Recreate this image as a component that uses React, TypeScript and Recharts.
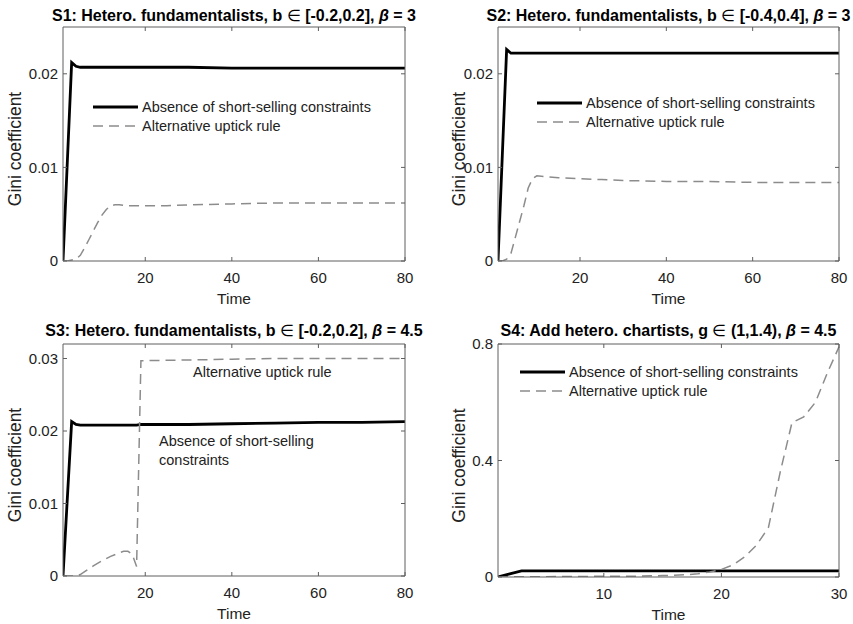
import { LineChart, Line, XAxis, YAxis, Legend } from 'recharts'

const FONT = '"Liberation Sans", Arial, Helvetica, sans-serif'
const AXIS = '#5e5e5e'
const INK = '#222'

const seriesNames = ['Absence of short-selling constraints', 'Alternative uptick rule']

// S1: hetero. fundamentalists, b in [-0.2,0.2], beta = 3
const s1Time = [1, 2, 3, 4, 5, 6, 7, 8, 9, 10, 11, 12, 13, 14, 16, 20, 25, 30, 40, 50, 60, 70, 80]
const s1Absence = [0, 0.0106, 0.0212, 0.0208, 0.0207, 0.0207, 0.0207, 0.0207, 0.0207, 0.0207, 0.0207, 0.0207, 0.0207, 0.0207, 0.0207, 0.0207, 0.0207, 0.0207, 0.0206, 0.0206, 0.0206, 0.0206, 0.0206]
const s1Uptick = [0, 0, 0.0001, 0.0002, 0.0006, 0.0014, 0.0023, 0.0032, 0.0041, 0.0049, 0.0055, 0.0059, 0.006, 0.006, 0.0059, 0.0059, 0.0059, 0.006, 0.0061, 0.0062, 0.0062, 0.0062, 0.0062]

// S2: hetero. fundamentalists, b in [-0.4,0.4], beta = 3
const s2Time = [1, 2, 3, 4, 5, 6, 7, 8, 9, 10, 12, 15, 20, 25, 30, 40, 50, 60, 70, 80]
const s2Absence = [0, 0.0113, 0.0226, 0.0222, 0.0222, 0.0222, 0.0222, 0.0222, 0.0222, 0.0222, 0.0222, 0.0222, 0.0222, 0.0222, 0.0222, 0.0222, 0.0222, 0.0222, 0.0222, 0.0222]
const s2Uptick = [0, 0, 0.0002, 0.0008, 0.0025, 0.0042, 0.0059, 0.0078, 0.0088, 0.0091, 0.009, 0.0089, 0.0088, 0.0087, 0.0086, 0.0085, 0.0085, 0.0084, 0.0084, 0.0084]

// S3: hetero. fundamentalists, b in [-0.2,0.2], beta = 4.5
const s3Time = [1, 2, 3, 4, 5, 6, 8, 10, 12, 14, 15, 16, 17, 18, 19, 20, 30, 40, 50, 60, 70, 80]
const s3Absence = [0, 0.0107, 0.0213, 0.0209, 0.0208, 0.0208, 0.0208, 0.0208, 0.0208, 0.0208, 0.0208, 0.0208, 0.0208, 0.0208, 0.0209, 0.0209, 0.0209, 0.021, 0.0211, 0.0212, 0.0212, 0.0213]
const s3Uptick = [0, 0, 0, 0, 0.0002, 0.0006, 0.0014, 0.0021, 0.0027, 0.0032, 0.0034, 0.0034, 0.003, 0.0013, 0.0297, 0.0297, 0.0298, 0.0299, 0.03, 0.03, 0.03, 0.03]

// S4: add hetero. chartists, g in (1,1.4), beta = 4.5
const s4Time = [1, 2, 3, 4, 5, 6, 7, 8, 9, 10, 11, 12, 13, 14, 15, 16, 17, 18, 19, 20, 21, 22, 23, 24, 25, 26, 27, 28, 29, 30]
const s4Absence = [0, 0.011, 0.021, 0.021, 0.021, 0.021, 0.021, 0.021, 0.021, 0.021, 0.021, 0.021, 0.021, 0.021, 0.021, 0.021, 0.021, 0.021, 0.021, 0.021, 0.021, 0.021, 0.021, 0.021, 0.021, 0.021, 0.021, 0.021, 0.021, 0.021]
const s4Uptick = [0, 0.001, 0.001, 0.001, 0.001, 0.002, 0.002, 0.002, 0.002, 0.003, 0.003, 0.003, 0.003, 0.004, 0.005, 0.006, 0.008, 0.011, 0.017, 0.026, 0.042, 0.07, 0.11, 0.17, 0.36, 0.53, 0.55, 0.6, 0.7, 0.79]

const timeTicks80 = [20, 40, 60, 80]
const timeTicks30 = [10, 20, 30]
const giniTicksLow = [0, 0.01, 0.02]
const giniTicksS3 = [0, 0.01, 0.02, 0.03]
const giniTicksS4 = [0, 0.4, 0.8]

const toRows = (time: number[], a: number[], b: number[]) =>
  time.map((t, i) => ({ t, absence: a[i], uptick: b[i] }))

const lineStyle: Record<string, { stroke: string; width: number; dash?: string }> = {
  [seriesNames[0]]: { stroke: '#000', width: 3.2 },
  [seriesNames[1]]: { stroke: '#8c8c8c', width: 1.5, dash: '10 6' },
}

function LegendBox({ payload }: any) {
  const items = [...(payload || [])].sort((a: any, b: any) => seriesNames.indexOf(a.value) - seriesNames.indexOf(b.value))
  return (
    <svg width={300} height={40} style={{ display: 'block', overflow: 'visible' }}>
      {items.map((p: any, i: number) => {
        const st = lineStyle[p.value]
        const y = 9 + i * 19
        return (
          <g key={p.value}>
            <line x1={0} x2={45} y1={y} y2={y} stroke={st.stroke} strokeWidth={st.width} strokeDasharray={st.dash} />
            <text x={49} y={y + 5} fontSize={14.5} fontFamily={FONT} fill={INK}>{p.value}</text>
          </g>
        )
      })}
    </svg>
  )
}

interface PanelProps {
  left: number
  top: number
  width: number
  rows: { t: number; absence: number; uptick: number }[]
  xDomain: [number, number]
  xTicks: number[]
  yDomain: [number, number]
  yTicks: number[]
  title: [string, string]
  beta: string
  margin: { top: number; right: number; bottom: number; left: number }
  titleY: number
  labelX: number
  legendAt?: { x: number; y: number }
  notes?: { x: number; y: number; text: string }[]
}

function Panel(p: PanelProps) {
  const H = 312
  const plotLeft = p.margin.left + 40
  const plotRight = p.width - p.margin.right - 1
  const plotTop = p.margin.top + 1
  const plotBottom = H - p.margin.bottom - 30
  const cx = (plotLeft + plotRight) / 2
  const cy = (plotTop + plotBottom) / 2 + 5
  const tickText = { fill: INK, fontSize: 15, fontFamily: FONT }
  return (
    <div style={{ position: 'absolute', left: p.left, top: p.top }}>
      <LineChart width={p.width} height={H} data={p.rows} margin={p.margin}>
        <XAxis dataKey="t" type="number" domain={p.xDomain} ticks={p.xTicks} allowDataOverflow
          height={30} tickSize={-4} tickMargin={15} stroke={AXIS} tick={tickText} />
        <XAxis xAxisId="top" orientation="top" dataKey="t" type="number" domain={p.xDomain} ticks={p.xTicks}
          allowDataOverflow height={1} tickSize={-4} tickFormatter={() => ''} stroke={AXIS} />
        <YAxis type="number" domain={p.yDomain} ticks={p.yTicks} allowDataOverflow width={40}
          tickSize={-4} tickMargin={9} stroke={AXIS} tick={tickText} />
        <YAxis yAxisId="right" orientation="right" type="number" domain={p.yDomain} ticks={p.yTicks}
          allowDataOverflow width={1} tickSize={-4} tickFormatter={() => ''} stroke={AXIS} />
        <Line dataKey="absence" name={seriesNames[0]} type="linear" stroke="#000" strokeWidth={2.8}
          dot={false} activeDot={false} isAnimationActive={false} />
        <Line dataKey="uptick" name={seriesNames[1]} type="linear" stroke="#8c8c8c" strokeWidth={1.5}
          strokeDasharray="10 6" dot={false} activeDot={false} isAnimationActive={false} />
        {p.legendAt && (
          <Legend layout="vertical" verticalAlign="middle" align="center" content={LegendBox}
            wrapperStyle={{ left: p.legendAt.x, top: p.legendAt.y, width: 300, height: 40 }} />
        )}
        <text x={cx} y={p.titleY} textAnchor="middle" fontFamily={FONT} fontSize={16} fontWeight="bold" fill="#000">
          <tspan>{p.title[0]}</tspan>
          <tspan fontWeight="normal">{' ∈ '}</tspan>
          <tspan>{p.title[1]}</tspan>
          <tspan fontStyle="italic">β</tspan>
          <tspan>{' = ' + p.beta}</tspan>
        </text>
        <text x={cx} y={plotBottom + 43} textAnchor="middle" fontFamily={FONT} fontSize={15.5} fill={INK}>Time</text>
        <text x={p.labelX} y={cy} textAnchor="middle" fontFamily={FONT} fontSize={17.5} fill={INK}
          transform={`rotate(-90 ${p.labelX} ${cy})`}>Gini coefficient</text>
        {(p.notes || []).map((n) => (
          <text key={n.text} x={n.x} y={n.y} fontFamily={FONT} fontSize={14.5} fill={INK}>{n.text}</text>
        ))}
      </LineChart>
    </div>
  )
}

export default function App() {
  return (
    <div style={{ position: 'absolute', left: 0, top: 0, width: 853, height: 624, background: '#fff' }}>
      <Panel left={0} top={0} width={426} rows={toRows(s1Time, s1Absence, s1Uptick)}
        xDomain={[1, 80]} xTicks={timeTicks80} yDomain={[0, 0.025]} yTicks={giniTicksLow}
        title={['S1: Hetero. fundamentalists, b', '[-0.2,0.2], ']} beta="3"
        margin={{ top: 26, right: 20, bottom: 21, left: 23 }} titleY={21} labelX={21}
        legendAt={{ x: 93, y: 98 }} />
      <Panel left={426} top={0} width={427} rows={toRows(s2Time, s2Absence, s2Uptick)}
        xDomain={[1, 80]} xTicks={timeTicks80} yDomain={[0, 0.025]} yTicks={giniTicksLow}
        title={['S2: Hetero. fundamentalists, b', '[-0.4,0.4], ']} beta="3"
        margin={{ top: 26, right: 13, bottom: 21, left: 32 }} titleY={21} labelX={39}
        legendAt={{ x: 111, y: 94 }} />
      <Panel left={0} top={312} width={426} rows={toRows(s3Time, s3Absence, s3Uptick)}
        xDomain={[1, 80]} xTicks={timeTicks80} yDomain={[0, 0.032]} yTicks={giniTicksS3}
        title={['S3: Hetero. fundamentalists, b', '[-0.2,0.2], ']} beta="4.5"
        margin={{ top: 31, right: 20, bottom: 18, left: 23 }} titleY={24} labelX={21}
        notes={[
          { x: 193, y: 65, text: seriesNames[1] },
          { x: 159, y: 134, text: 'Absence of short-selling' },
          { x: 159, y: 153, text: 'constraints' },
        ]} />
      <Panel left={426} top={312} width={427} rows={toRows(s4Time, s4Absence, s4Uptick)}
        xDomain={[1, 30]} xTicks={timeTicks30} yDomain={[0, 0.8]} yTicks={giniTicksS4}
        title={['S4: Add hetero. chartists, g', '(1,1.4), ']} beta="4.5"
        margin={{ top: 31, right: 13, bottom: 17, left: 32 }} titleY={24} labelX={39}
        legendAt={{ x: 94, y: 51 }} />
    </div>
  )
}
